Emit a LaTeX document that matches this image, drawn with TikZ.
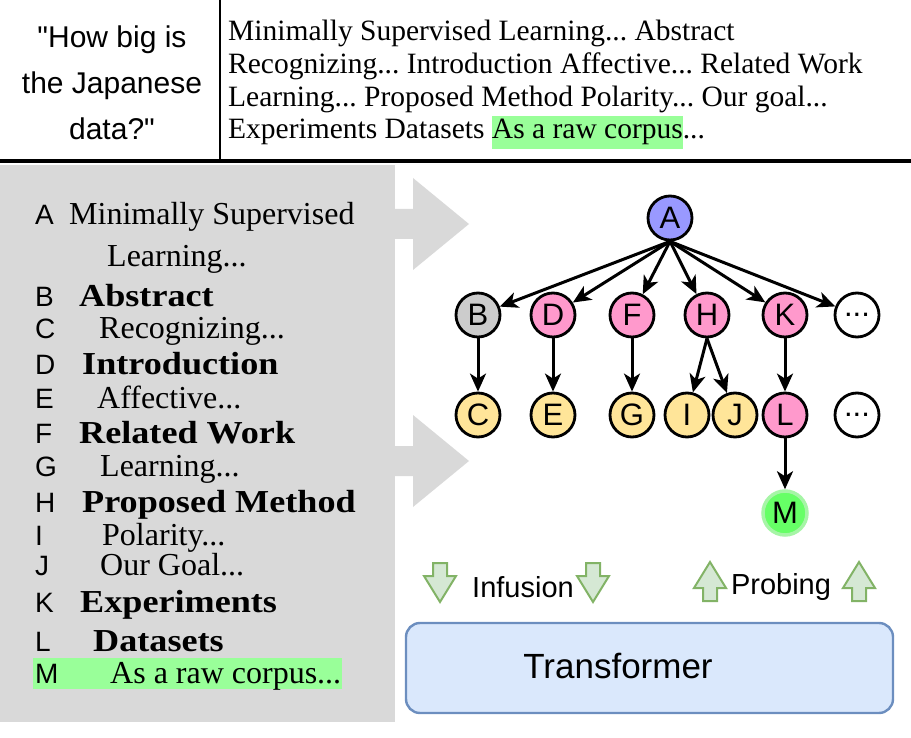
\documentclass[tikz,border=0pt]{standalone}
\usepackage{fontspec}
\setmainfont[BoldFeatures={FakeStretch=1.13}]{Liberation Serif}
\setsansfont{Liberation Sans}
\usetikzlibrary{arrows.meta}
\frenchspacing

\definecolor{panelgray}{HTML}{D9D9D9}
\definecolor{hlgreen}{HTML}{99FF99}
\definecolor{nodeblue}{HTML}{9999FF}
\definecolor{nodepink}{HTML}{FF99CC}
\definecolor{nodeyellow}{HTML}{FFE599}
\definecolor{nodegray}{HTML}{CCCCCC}
\definecolor{nodegreen}{HTML}{66FF66}
\definecolor{glowgreen}{HTML}{A6F5A6}
\definecolor{arrowgreen}{HTML}{82B366}
\definecolor{arrowfill}{HTML}{D5E8D4}
\definecolor{tfblue}{HTML}{6C8EBF}
\definecolor{tffill}{HTML}{DAE8FC}

\newcommand{\trail}{...}

\tikzset{
  px/.style={x=1pt,y=-1pt},
  sec/.style={circle,draw,line width=2.8pt,minimum size=44pt,inner sep=0pt,
    font=\sffamily\fontsize{31}{31}\selectfont},
  link/.style={line width=3pt,-{Stealth[length=18pt,width=16pt,inset=5pt]}},
  tag/.style={anchor=base west,inner sep=0pt,font=\sffamily\fontsize{28}{28}\selectfont},
  entry/.style={anchor=base west,inner sep=0pt,font=\fontsize{32}{32}\selectfont},
  head/.style={entry,font=\bfseries\fontsize{32}{32}\selectfont},
  bigarrow/.pic={\fill[panelgray] (-2,-15) -- (18,-15) -- (18,-46) -- (74,0)
    -- (18,46) -- (18,15) -- (-2,15) -- cycle;},
  fatdown/.pic={\filldraw[draw=arrowgreen,fill=arrowfill,line width=2pt]
    (-7,-19) -- (7,-19) -- (7,-6) -- (16,-6) -- (0,20) -- (-16,-6) -- (-7,-6) -- cycle;}
}

\begin{document}
\begin{tikzpicture}[px]
  \useasboundingbox (0,0) rectangle (911,738);

  % query and flattened document
  \draw[line width=2pt] (220,0) -- (220,160);
  \draw[line width=4pt] (0,161) -- (911,161);
  \node[align=center,anchor=base,inner sep=0pt,font=\sffamily\fontsize{30}{46}\selectfont]
    (query) at (112,140) {\textquotedbl How big is\\the Japanese\\data?\textquotedbl};
  \node[align=left,anchor=base west,inner sep=0pt,font=\fontsize{29.5}{32.7}\selectfont]
    (flat) at (228,139) {Minimally Supervised Learning... Abstract\\
    Recognizing... Introduction Affective... Related Work\\
    Learning... Proposed Method Polarity... Our goal...\\
    Experiments Datasets {\setlength\fboxsep{0pt}\colorbox{hlgreen}{\strut As a raw corpus}}...};

  % section list
  \fill[panelgray] (0,165) rectangle (395,722);
  \fill[hlgreen] (33,658) rectangle (342,689);
  \foreach \l/\y in {A/225,B/306,C/338,D/374,E/408,F/443,G/476,H/512,I/545,J/575,K/612,L/651,M/683}
    \node[tag] (tag\l) at (35,\y) {\l};
  \foreach \t/\x/\y [count=\i] in {Minimally Supervised/69/225,Learning\trail/107/267,
      Recognizing\trail/99/338,Affective\trail/97/408,Learning\trail/100/476,
      Polarity\trail/102/545,Our Goal\trail/100/575,As a raw corpus\trail/110/683}
    \node[entry] (entry\i) at (\x,\y) {\t};
  \foreach \t/\x/\y [count=\i] in {Abstract/79/306,Introduction/82/374,Related Work/79/443,
      Proposed Method/82/512,Experiments/80/612,Datasets/93/651}
    \node[head] (head\i) at (\x,\y) {\t};

  \pic at (395,224) {bigarrow};
  \pic at (395,461) {bigarrow};

  % section tree
  \node[sec,fill=nodeblue] (A) at (670,218) {A};
  \foreach \n/\x/\c in {B/478/nodegray,D/553/nodepink,F/632/nodepink,H/707/nodepink,K/785/nodepink}
    \node[sec,fill=\c] (\n) at (\x,315) {\n};
  \node[sec] (dots1) at (857,315) {...};
  \foreach \n/\x/\c in {C/478/nodeyellow,E/553/nodeyellow,G/632/nodeyellow,I/687/nodeyellow,
      J/735/nodeyellow,L/785/nodepink}
    \node[sec,fill=\c] (\n) at (\x,415) {\n};
  \node[sec] (dots2) at (857,415) {...};
  \node[sec,fill=nodegreen,draw=glowgreen,line width=3.5pt] (M) at (785,513) {M};

  \foreach \n in {B,D,F,H,K,dots1}
    \draw[link] (A.south) -- (\n);
  \draw[link] (B) -- (C);
  \draw[link] (D) -- (E);
  \draw[link] (F) -- (G);
  \draw[link] (H.south) -- (I);
  \draw[link] (H.south) -- (J);
  \draw[link] (K) -- (L);
  \draw[link] (L) -- (M);

  % model
  \pic at (440,582) {fatdown};
  \pic at (593,582) {fatdown};
  \pic[rotate=180] at (710,582) {fatdown};
  \pic[rotate=180] at (859,582) {fatdown};
  \node[font=\sffamily\fontsize{29}{29}\selectfont] (infusion) at (523,587) {Infusion};
  \node[font=\sffamily\fontsize{29}{29}\selectfont] (probing) at (781,587) {Probing};
  \node[draw=tfblue,fill=tffill,line width=2.4pt,rounded corners=14pt,
    minimum width=487pt,minimum height=90pt] (tf) at (649.5,668) {};
  \node[font=\sffamily\fontsize{35}{35}\selectfont] (tflabel) at (618,666) {Transformer};
\end{tikzpicture}
\end{document}
